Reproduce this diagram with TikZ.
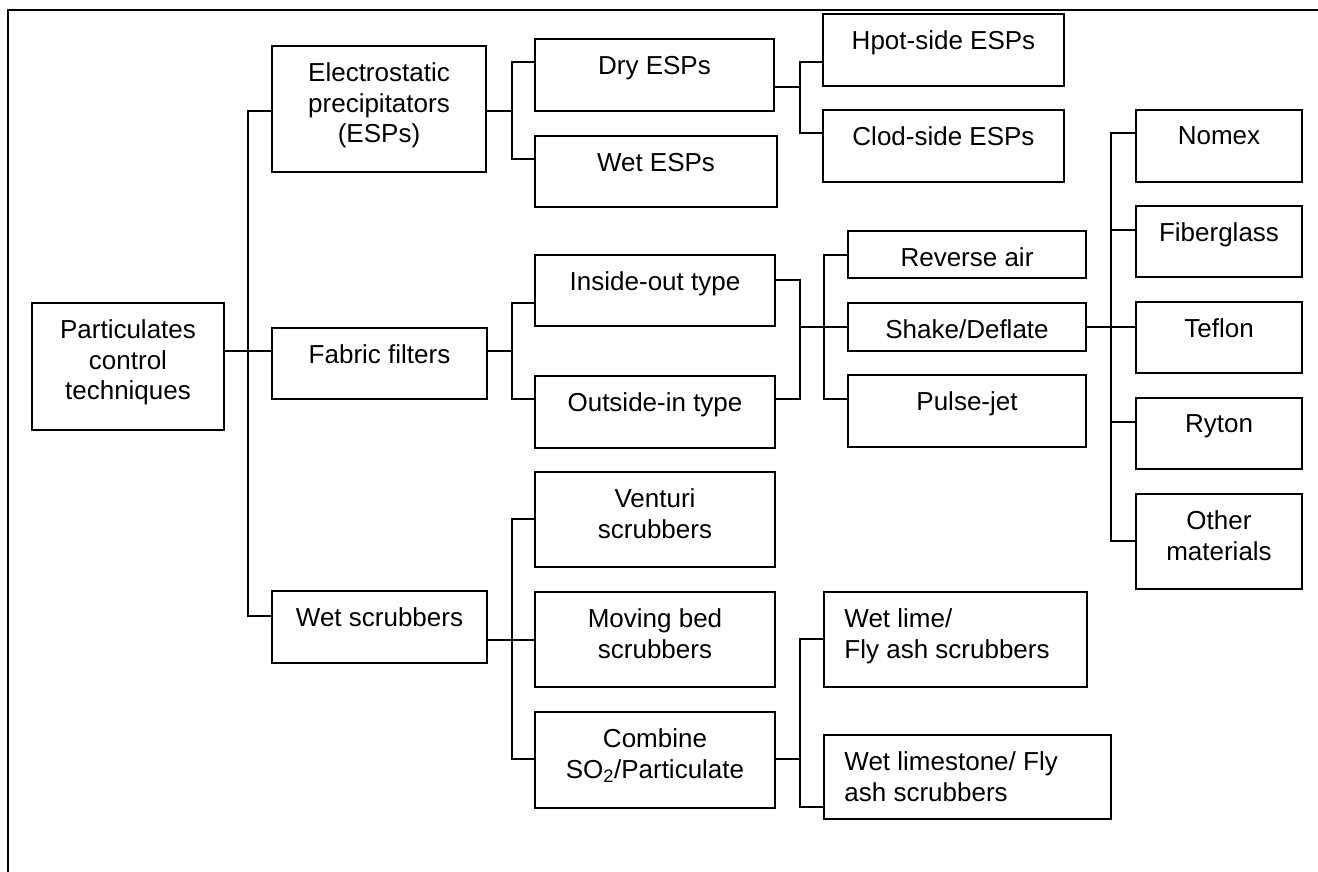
\documentclass[tikz,border=0pt]{standalone}
\usepackage{fontspec}
\setmainfont{Liberation Sans}
\usepackage{tikz}

\tikzset{
  box/.style={draw, line width=1.5pt, inner sep=0pt},
  lbl/.style={anchor=north, yshift=-17.5pt, inner sep=0pt, align=center, font=\fontsize{26}{30.5}\selectfont},
  lbll/.style={anchor=north west, xshift=21pt, yshift=-17.5pt, inner sep=0pt, align=left, font=\fontsize{26}{30.5}\selectfont},
  link/.style={line width=1.3pt},
}

\begin{document}
\begin{tikzpicture}[x=1pt, y=-1pt]
    \useasboundingbox (0,0) rectangle (1318,872);
    \draw[line width=2pt] (8,872) -- (8,10.5) -- (1318,10.5);

    % boxes
    \node[box, minimum width=192, minimum height=127, label={[lbl]north:Particulates\\control\\techniques}] (part) at (128,366.5) {};
    \node[box, minimum width=214, minimum height=126, label={[lbl]north:Electrostatic\\precipitators\\(ESPs)}] (esp) at (379,109) {};
    \node[box, minimum width=215, minimum height=71, label={[lbl]north:Fabric filters}] (fab) at (379.5,363.5) {};
    \node[box, minimum width=215, minimum height=72, label={[lbl]north:Wet scrubbers}] (wsc) at (379.5,627) {};
    \node[box, minimum width=239, minimum height=72, label={[lbl]north:Dry ESPs}] (dry) at (654.5,75) {};
    \node[box, minimum width=242, minimum height=71, label={[lbl]north:Wet ESPs}] (wesp) at (656,171.5) {};
    \node[box, minimum width=241, minimum height=72, label={[lbl]north:Hpot-side ESPs}] (hpot) at (943.5,50) {};
    \node[box, minimum width=241, minimum height=72, label={[lbl]north:Clod-side ESPs}] (clod) at (943.5,146) {};
    \node[box, minimum width=240, minimum height=71, label={[lbl]north:Inside-out type}] (inout) at (655,290.5) {};
    \node[box, minimum width=240, minimum height=72, label={[lbl]north:Outside-in type}] (outin) at (655,412) {};
    \node[box, minimum width=238, minimum height=47, label={[lbl]north:Reverse air}] (rev) at (967,254.5) {};
    \node[box, minimum width=238, minimum height=48, label={[lbl]north:Shake/Deflate}] (shake) at (967,327) {};
    \node[box, minimum width=238, minimum height=72, label={[lbl]north:Pulse-jet}] (pulse) at (967,411) {};
    \node[box, minimum width=166, minimum height=72, label={[lbl]north:Nomex}] (nomex) at (1219,146) {};
    \node[box, minimum width=166, minimum height=71, label={[lbl]north:Fiberglass}] (fiber) at (1219,241.5) {};
    \node[box, minimum width=166, minimum height=71, label={[lbl]north:Teflon}] (teflon) at (1219,337.5) {};
    \node[box, minimum width=166, minimum height=71, label={[lbl]north:Ryton}] (ryton) at (1219,433.5) {};
    \node[box, minimum width=166, minimum height=95, label={[lbl]north:Other\\materials}] (other) at (1219,541.5) {};
    \node[box, minimum width=240, minimum height=95, label={[lbl]north:Venturi\\scrubbers}] (venturi) at (655,519.5) {};
    \node[box, minimum width=240, minimum height=95, label={[lbl]north:Moving bed\\scrubbers}] (moving) at (655,639.5) {};
    \node[box, minimum width=240, minimum height=96, label={[lbl]north:Combine\\SO\textsubscript{2}/Particulate}] (combine) at (655,760) {};
    \node[box, minimum width=263, minimum height=95, label={[lbll]north west:Wet lime/\\Fly ash scrubbers}] (lime) at (955.5,639.5) {};
    \node[box, minimum width=287, minimum height=84, label={[lbll]north west:Wet limestone/ Fly\\ash scrubbers}] (limestone) at (967.5,777) {};

    % junctions
    \coordinate (a1) at (248,351);
    \coordinate (tr1) at (248,111);
    \coordinate (tr2) at (248,616);
    \coordinate (b1) at (512,62);
    \coordinate (b2) at (512,159);
    \coordinate (c0) at (800,87);
    \coordinate (c1) at (800,62);
    \coordinate (c2) at (800,133);
    \coordinate (d1) at (512,303);
    \coordinate (d2) at (512,399);
    \coordinate (e0) at (800,327);
    \coordinate (e1) at (800,280);
    \coordinate (e2) at (800,399);
    \coordinate (f1) at (824,255);
    \coordinate (f2) at (824,399);
    \coordinate (g1) at (1111,133);
    \coordinate (g2) at (1111,541);
    \coordinate (g3) at (1111,230);
    \coordinate (g4) at (1111,422);
    \coordinate (h0) at (512,640);
    \coordinate (h1) at (512,519);
    \coordinate (h2) at (512,759);
    \coordinate (k1) at (800,639);
    \coordinate (k2) at (800,807);

    % connectors
    \draw[link] (part.east |- a1) -- (fab.west |- a1);
    \draw[link] (esp.west |- tr1) -- (tr1) -- (tr2) -- (wsc.west |- tr2);
    \draw[link] (esp.east |- tr1) -- (b1 |- tr1);
    \draw[link] (dry.west |- b1) -- (b1) -- (b2) -- (wesp.west |- b2);
    \draw[link] (dry.east |- c0) -- (c0);
    \draw[link] (hpot.west |- c1) -- (c1) -- (c2) -- (clod.west |- c2);
    \draw[link] (fab.east |- a1) -- (d1 |- a1);
    \draw[link] (inout.west |- d1) -- (d1) -- (d2) -- (outin.west |- d2);
    \draw[link] (inout.east |- e1) -- (e1) -- (e2) -- (outin.east |- e2);
    \draw[link] (e0) -- (shake.west |- e0);
    \draw[link] (rev.west |- f1) -- (f1) -- (f2) -- (pulse.west |- f2);
    \draw[link] (shake.east |- e0) -- (teflon.west |- e0);
    \draw[link] (nomex.west |- g1) -- (g1) -- (g2) -- (other.west |- g2);
    \draw[link] (g3) -- (fiber.west |- g3);
    \draw[link] (g4) -- (ryton.west |- g4);
    \draw[link] (wsc.east |- h0) -- (moving.west |- h0);
    \draw[link] (venturi.west |- h1) -- (h1) -- (h2) -- (combine.west |- h2);
    \draw[link] (combine.east |- h2) -- (k1 |- h2);
    \draw[link] (lime.west |- k1) -- (k1) -- (k2) -- (limestone.west |- k2);
\end{tikzpicture}
\end{document}
